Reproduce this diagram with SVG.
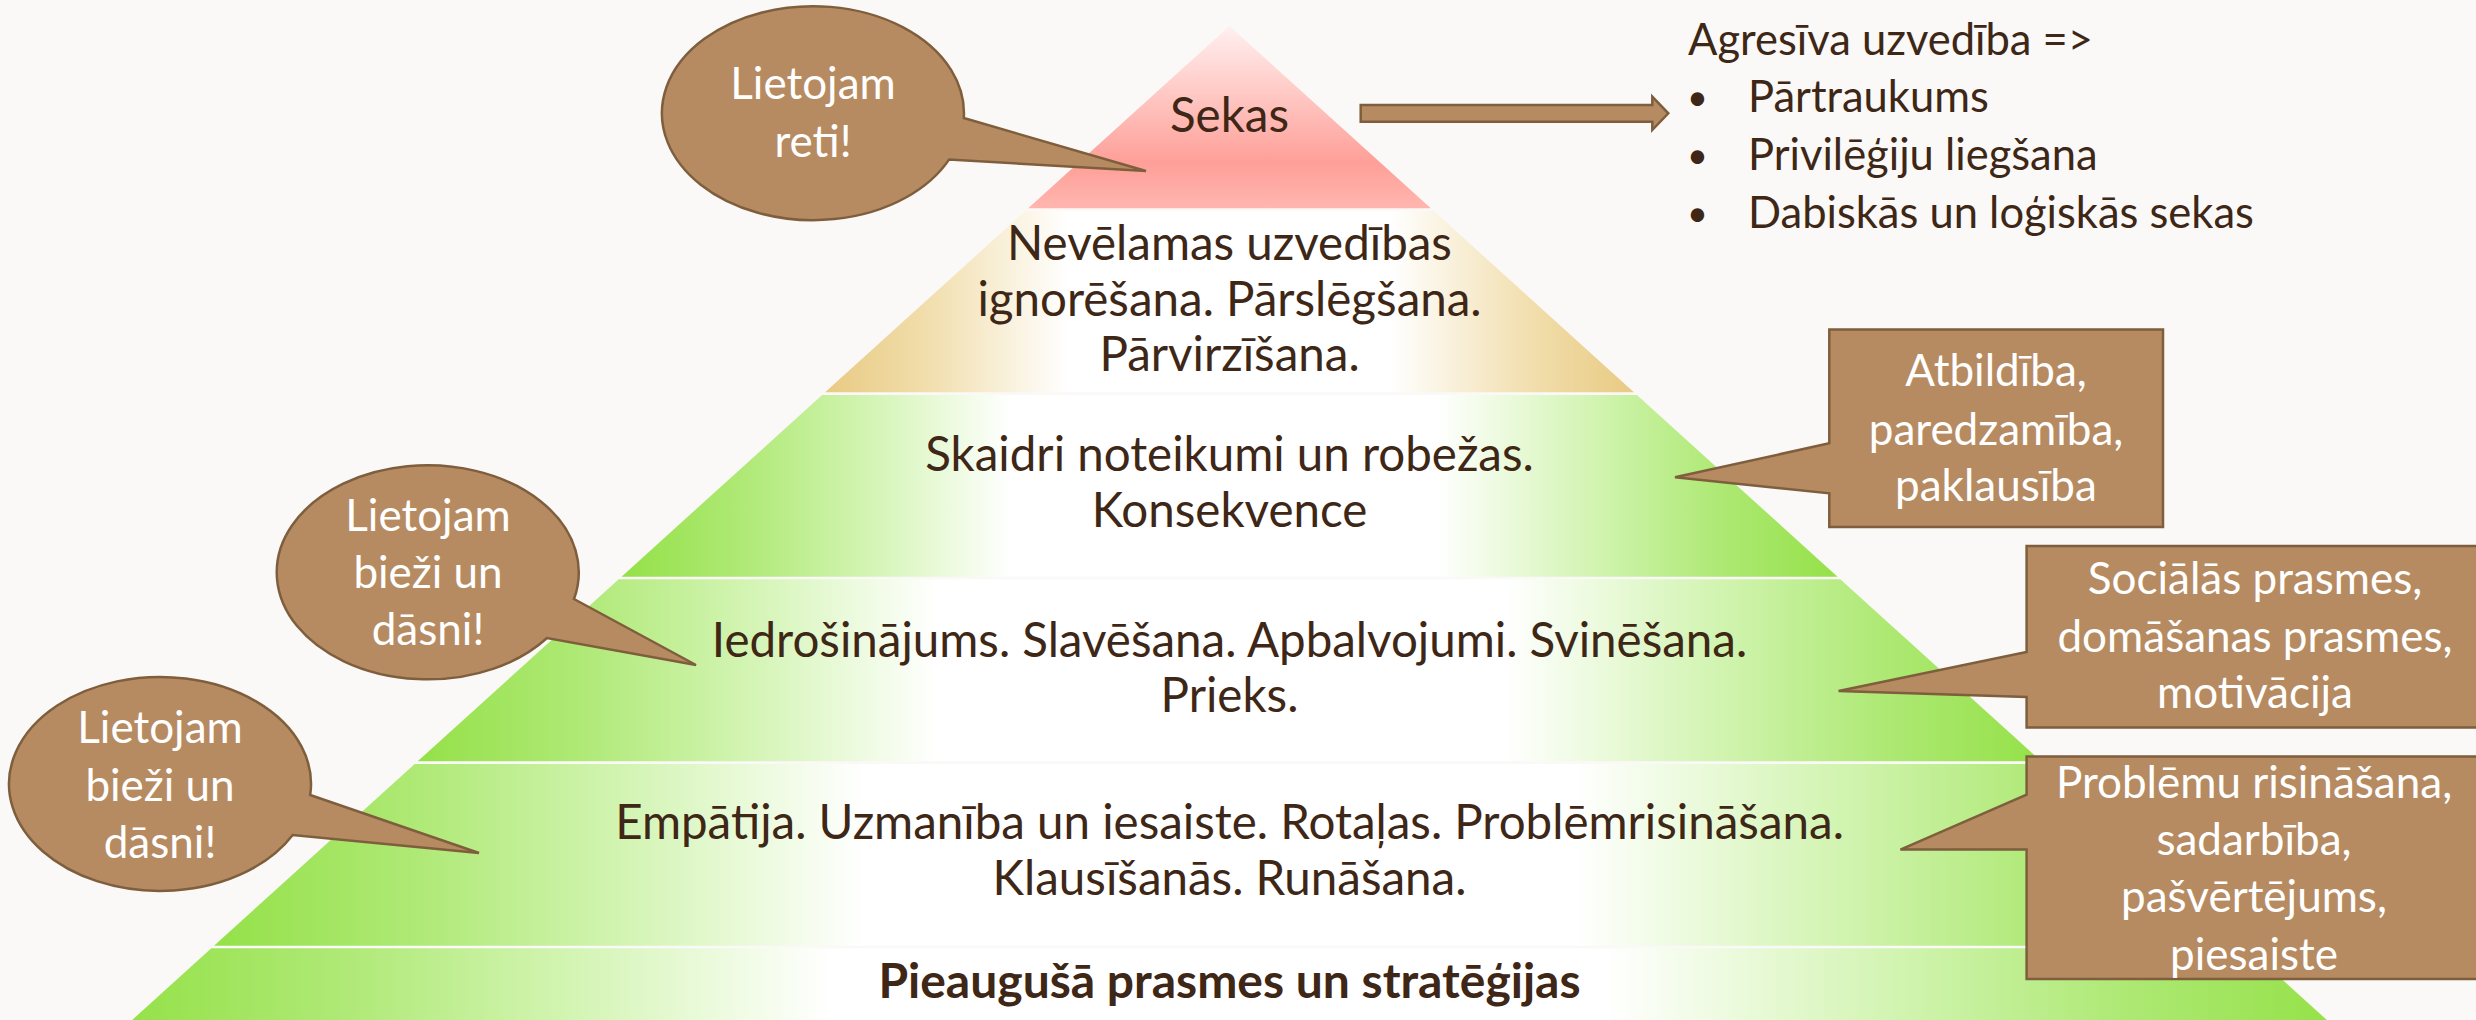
<svg xmlns="http://www.w3.org/2000/svg" width="2476" height="1020" viewBox="0 0 2476 1020">
<defs>
<style>
.t{font-family:Lato,"Noto Sans",sans-serif;font-size:47.5px;fill:#3E2716;text-anchor:middle}
.w{font-family:Lato,"Noto Sans",sans-serif;font-size:44px;fill:#FFFFFF;text-anchor:middle}
.l{font-family:Lato,"Noto Sans",sans-serif;font-size:43.5px;fill:#3E2716}
.bu{font-family:Lato,"Noto Sans",sans-serif;font-size:36px;fill:#3E2716}
.b{font-weight:bold;font-size:48px}
.call{fill:#B78B62;stroke:#7E5E3C;stroke-width:2.5}
</style>
<linearGradient id="gRed" x1="0" y1="0" x2="0" y2="1">
<stop offset="0" stop-color="#FFF0EF"/>
<stop offset="0.35" stop-color="#FFCBC7"/>
<stop offset="0.75" stop-color="#FE9F98"/>
<stop offset="1" stop-color="#FFB6AF"/>
</linearGradient>
<linearGradient id="gTan" x1="0" y1="0" x2="1" y2="0">
<stop offset="0" stop-color="#E8CA83"/>
<stop offset="0.12" stop-color="#F1DDAA"/>
<stop offset="0.3" stop-color="#FFFFFF"/>
<stop offset="0.7" stop-color="#FFFFFF"/>
<stop offset="0.88" stop-color="#F1DDAA"/>
<stop offset="1" stop-color="#E8CA83"/>
</linearGradient>
<linearGradient id="gGreen" x1="0" y1="0" x2="1" y2="0">
<stop offset="0" stop-color="#94E148"/>
<stop offset="0.1" stop-color="#AFE976"/>
<stop offset="0.2" stop-color="#D2F4B1"/>
<stop offset="0.32" stop-color="#FFFFFF"/>
<stop offset="0.67" stop-color="#FFFFFF"/>
<stop offset="0.8" stop-color="#D2F4B1"/>
<stop offset="0.9" stop-color="#AFE976"/>
<stop offset="1" stop-color="#94E148"/>
</linearGradient>
</defs>
<rect x="0" y="0" width="2476" height="1020" fill="#FAF9F7"/>

<g id="tier1">
<polygon points="1229.5,26 1430.8,208.3 1028.2,208.3" fill="url(#gRed)"/>
<text class="t" x="1229.5" y="132">Sekas</text>
</g>
<g id="tier2">
<polygon points="1025.5,210.8 1433.5,210.8 1633.9,392.3 825.1,392.3" fill="url(#gTan)"/>
<text class="t" x="1229.5" y="260">Nevēlamas uzvedības</text>
<text class="t" x="1229.5" y="315.5">ignorēšana. Pārslēgšana.</text>
<text class="t" x="1229.5" y="371">Pārvirzīšana.</text>
</g>
<g id="tier3">
<polygon points="822.1,395 1636.9,395 1837.5,576.7 621.5,576.7" fill="url(#gGreen)"/>
<text class="t" x="1229.5" y="471">Skaidri noteikumi un robežas.</text>
<text class="t" x="1229.5" y="527">Konsekvence</text>
</g>
<g id="tier4">
<polygon points="618.7,579.3 1840.3,579.3 2041.3,761.3 417.7,761.3" fill="url(#gGreen)"/>
<text class="t" x="1229.5" y="656.5">Iedrošinājums. Slavēšana. Apbalvojumi. Svinēšana.</text>
<text class="t" x="1229.5" y="712">Prieks.</text>
</g>
<g id="tier5">
<polygon points="414.7,764 2044.3,764 2245,945.8 214,945.8" fill="url(#gGreen)"/>
<text class="t" x="1229.5" y="839">Empātija. Uzmanība un iesaiste. Rotaļas. Problēmrisināšana.</text>
<text class="t" x="1229.5" y="895">Klausīšanās. Runāšana.</text>
</g>
<g id="tier6">
<polygon points="211.3,948.3 2247.7,948.3 2337.9,1030 121.1,1030" fill="url(#gGreen)"/>
<text class="t b" x="1229.5" y="998">Pieaugušā prasmes un stratēģijas</text>
</g>

<g id="connectors">
<path class="call" d="M1360.7 105 H1652.3 V96.7 L1668.3 113.3 L1652.3 130 V121.7 H1360.7 Z"/>
</g>

<g id="list">
<text class="l" x="1688" y="55">Agresīva uzvedība =&gt;</text>
<text class="bu" x="1687" y="110">•</text>
<text class="l" x="1748" y="112">Pārtraukums</text>
<text class="bu" x="1687" y="168">•</text>
<text class="l" x="1748" y="170">Privilēģiju liegšana</text>
<text class="bu" x="1687" y="226">•</text>
<text class="l" x="1748" y="228">Dabiskās un loģiskās sekas</text>
</g>

<g id="bubble1">
<path class="call" d="M963.8 118 L1146 171 L949 159.6 A151 107 0 1 1 963.8 118 Z"/>
<text class="w" x="813" y="99">Lietojam</text>
<text class="w" x="813" y="157">reti!</text>
</g>
<g id="bubble2">
<path class="call" d="M574 599 L696 665 L547 638 A151 107 0 1 1 574 599 Z"/>
<text class="w" x="428" y="531">Lietojam</text>
<text class="w" x="428" y="588">bieži un</text>
<text class="w" x="428" y="645">dāsni!</text>
</g>
<g id="bubble3">
<path class="call" d="M310.2 795 L479 853 L292.7 835 A151 107 0 1 1 310.2 795 Z"/>
<text class="w" x="160" y="743">Lietojam</text>
<text class="w" x="160" y="801">bieži un</text>
<text class="w" x="160" y="858">dāsni!</text>
</g>

<g id="rect1">
<path class="call" d="M1829.3 329.5 H2163 V527 H1829.3 V493.3 L1675 477.3 L1829.3 443.3 Z"/>
<text class="w" x="1996" y="386">Atbildība,</text>
<text class="w" x="1996" y="444.5">paredzamība,</text>
<text class="w" x="1996" y="501">paklausība</text>
</g>
<g id="rect2">
<path class="call" d="M2026.6 546 H2484 V727.5 H2026.6 V697 L1838.6 691 L2026.6 652 Z"/>
<text class="w" x="2255" y="593.6">Sociālās prasmes,</text>
<text class="w" x="2255" y="652">domāšanas prasmes,</text>
<text class="w" x="2255" y="708">motivācija</text>
</g>
<g id="rect3">
<path class="call" d="M2026.6 756.5 H2484 V979 H2026.6 V849.6 L1900.4 849.6 L2026.6 794.6 Z"/>
<text class="w" x="2254" y="797.5">Problēmu risināšana,</text>
<text class="w" x="2254" y="855">sadarbība,</text>
<text class="w" x="2254" y="912">pašvērtējums,</text>
<text class="w" x="2254" y="969.5">piesaiste</text>
</g>
</svg>
